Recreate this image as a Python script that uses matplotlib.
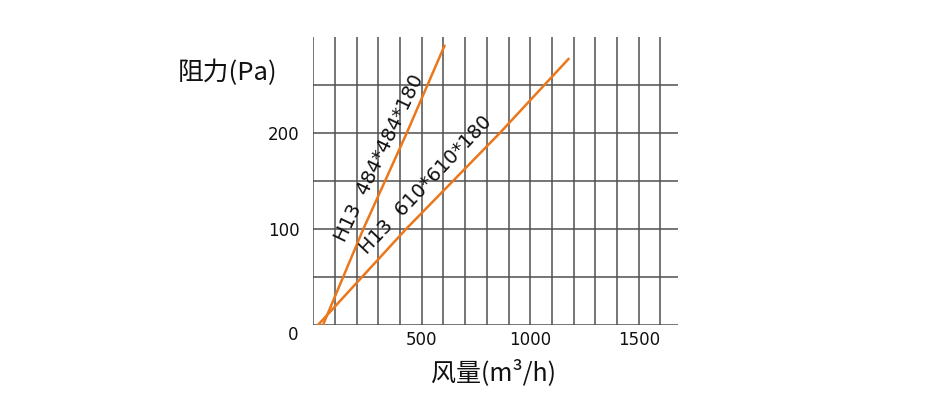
import matplotlib
matplotlib.use("Agg")
import matplotlib.pyplot as plt

# ---- data ----
x_ticks = [500, 1000, 1500]
y_ticks = [100, 200]
x_grid = list(range(0, 1700, 100))
y_grid = list(range(0, 300, 50))

flow_484 = [45, 231, 431, 607]
pres_484 = [0, 100, 200, 292]
flow_610 = [22, 428, 860, 1180]
pres_610 = [0, 100, 200, 278]

label_484 = "H13  484*484*180"
label_610 = "H13  610*610*180"
x_label = "风量(m³/h)"
y_label = "阻力(Pa)"

plt.rcParams['font.family'] = ['DejaVu Sans']
cjk = ['Noto Sans CJK SC', 'DejaVu Sans']

fig = plt.figure(figsize=(9.3, 4.04), dpi=100)
ax = fig.add_axes([313.2 / 930, 79 / 404, 364.6 / 930, 288 / 404])
ax.set_xlim(0, 1680)
ax.set_ylim(0, 300)
for s in ax.spines.values():
    s.set_visible(False)

grid_c = '#505050'
ax.vlines(x_grid, 0, 300, color=grid_c, lw=1.1, zorder=1)
ax.hlines(y_grid, 0, 1680, color=grid_c, lw=1.1, zorder=1)

orange = '#EC771A'
ax.plot(flow_484, pres_484, color=orange, lw=1.8, zorder=3, solid_capstyle='butt')
ax.plot(flow_610, pres_610, color=orange, lw=1.8, zorder=3, solid_capstyle='butt')

ax.set_xticks(x_ticks)
ax.set_xticklabels([str(v) for v in x_ticks], fontsize=12, color='#111111')
ax.set_yticks(y_ticks)
ax.set_yticklabels([str(v) for v in y_ticks], fontsize=12, color='#111111')
ax.tick_params(axis='both', length=0)
ax.tick_params(axis='x', pad=4)
ax.tick_params(axis='y', pad=10)

ax.text(-92, -10.5, "0", fontsize=12, ha='center', va='center', color='#111111', clip_on=False)

ax.text(304, 174, label_484, fontsize=14, rotation=64.5, rotation_mode='anchor',
        ha='center', va='center', color='#111111', zorder=4)
ax.text(518, 146, label_610, fontsize=14, rotation=46.5, rotation_mode='anchor',
        ha='center', va='center', color='#111111', zorder=4)

ax.text(831, -50, x_label, fontsize=18, family=cjk, ha='center', va='center',
        color='#111111', clip_on=False)
ax.text(-395, 263, y_label, fontsize=18.5, family=cjk, ha='center', va='center',
        color='#111111', clip_on=False)

fig.savefig("out.png", dpi=100, facecolor='white')
